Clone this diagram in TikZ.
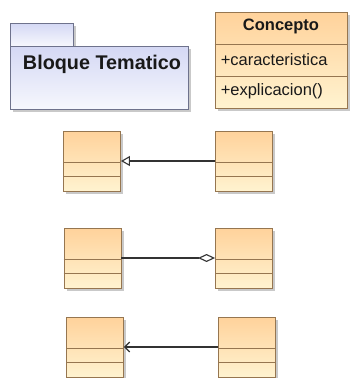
\documentclass[tikz,border=0pt]{standalone}
\usepackage{fontspec}
\setmainfont{Liberation Sans}
\usetikzlibrary{arrows.meta,shadows}

\definecolor{clsTop}{RGB}{255,210,155}
\definecolor{clsBot}{RGB}{255,243,208}
\definecolor{clsLine}{RGB}{150,118,80}
\definecolor{pkgTop}{RGB}{212,216,244}
\definecolor{pkgBot}{RGB}{246,247,253}
\definecolor{pkgLine}{RGB}{110,114,140}
\definecolor{inkGray}{RGB}{50,50,50}

\tikzset{
  boxshadow/.style={drop shadow={shadow xshift=2.5pt, shadow yshift=-2.5pt, fill=black!35, opacity=0.6}},
  classbox/.style={draw=clsLine, line width=0.9pt, top color=clsTop, bottom color=clsBot,
    minimum width=57pt, minimum height=60pt, inner sep=0pt, boxshadow},
  pkgbox/.style={draw=pkgLine, line width=0.9pt, top color=pkgTop, bottom color=pkgBot,
    inner sep=0pt, boxshadow},
  divider/.style={draw=clsLine, line width=0.9pt},
  link/.style={draw=inkGray, line width=1.1pt},
}

\begin{document}
\begin{tikzpicture}[x=1pt, y=-1pt]
\useasboundingbox[fill=white] (0,0) rectangle (350,378);

% package
\node[pkgbox, minimum width=63pt, minimum height=23pt] (pkgtab) at (41.5,34.5) {};
\node[pkgbox, minimum width=178pt, minimum height=63pt] (pkg) at (99,77.5) {};
\node[font=\bfseries\fontsize{19.8}{21}\selectfont, text=black!90] (pkgname)
  at ([xshift=3pt,yshift=-19pt]pkg.north) {Bloque Tematico};

% class Concepto
\node[classbox, minimum width=132pt, minimum height=96pt] (concepto) at (281,60) {};
\draw[divider] ([yshift=-33pt]concepto.north west) -- ([yshift=-33pt]concepto.north east);
\draw[divider] ([yshift=-65pt]concepto.north west) -- ([yshift=-65pt]concepto.north east);
\node[font=\bfseries\fontsize{16.5}{18}\selectfont, text=black!90] (ctitle)
  at ([yshift=-15pt]concepto.north) {Concepto};
\node[anchor=west, inner sep=0pt, font=\fontsize{16.5}{18}\selectfont, text=black!90] (cattr)
  at ([xshift=6pt,yshift=-48pt]concepto.north west) {+caracteristica};
\node[anchor=west, inner sep=0pt, font=\fontsize{16.5}{18}\selectfont, text=black!90] (cop)
  at ([xshift=6pt,yshift=-80pt]concepto.north west) {+explicacion()};

% small classes
\node[classbox] (gen1) at (92,161) {};
\node[classbox] (spec1) at (244,161) {};
\node[classbox] (whole2) at (92.5,258) {};
\node[classbox] (part2) at (244,258) {};
\node[classbox] (dst3) at (95,347) {};
\node[classbox] (src3) at (247,347) {};

\foreach \b in {gen1,spec1,whole2,part2,dst3,src3}{
  \draw[divider] ([yshift=-32pt]\b.north west) -- ([yshift=-32pt]\b.north east);
  \draw[divider] ([yshift=-46pt]\b.north west) -- ([yshift=-46pt]\b.north east);
}

% relations
\draw[link, -{Triangle[open, length=9pt, width=10pt]}] (spec1.west) -- (gen1.east);
\draw[link, -{Diamond[open, length=17pt, width=8pt]}] (whole2.east) -- (part2.west);
\draw[link, -{Straight Barb[length=5pt, width=10pt]}] (src3.west) -- (dst3.east);
\end{tikzpicture}
\end{document}
